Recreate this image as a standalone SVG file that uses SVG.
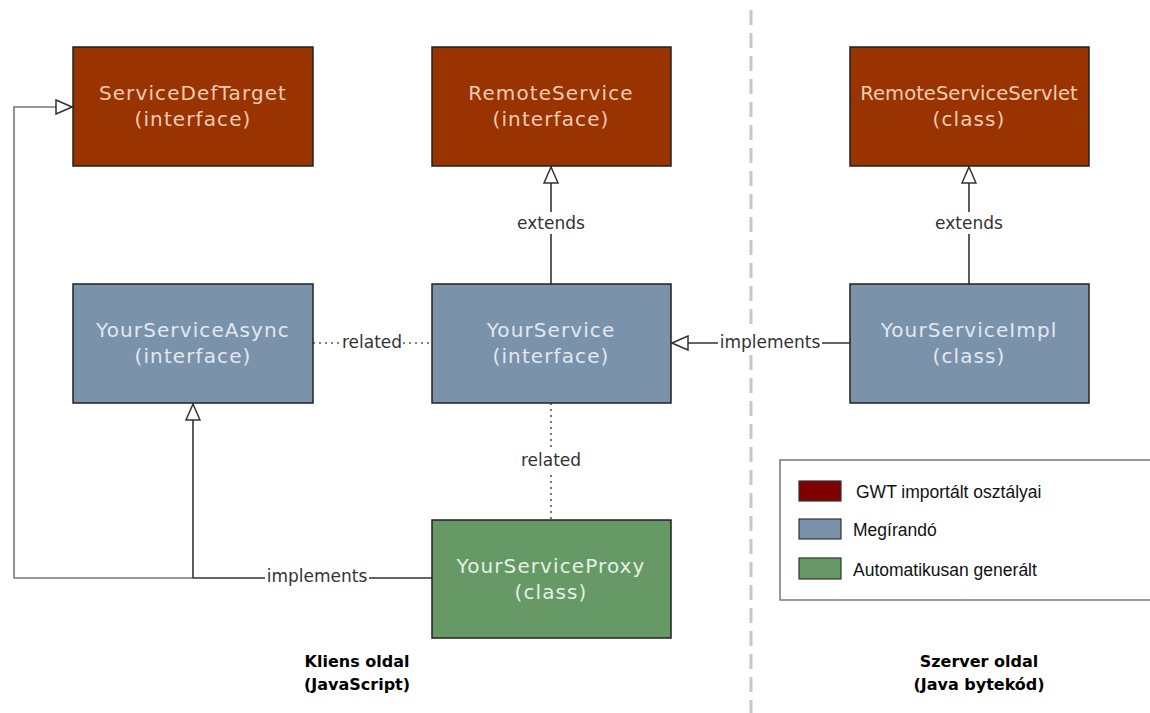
<svg xmlns="http://www.w3.org/2000/svg" width="1150" height="713" viewBox="0 0 1150 713">
<style>
.node rect{stroke:#222;stroke-width:1.5}
.brown rect{fill:#993300}
.blue rect{fill:#7a92aa}
.green rect{fill:#669966}
.ntext{font-family:"DejaVu Sans",Verdana,sans-serif;font-size:20px;letter-spacing:1.1px;text-anchor:middle}
.brown text{fill:#f2cbb5}
.blue text{fill:#e2e8f0}
.green text{fill:#e4f0e4}
.conn{fill:none;stroke:#333;stroke-width:1.6}
.dot{fill:none;stroke:#555;stroke-width:1.6;stroke-dasharray:2 4}
.lbl{font-family:"DejaVu Sans",Verdana,sans-serif;font-size:17px;fill:#333;text-anchor:middle}
.lbg{fill:#fff}
.legtext{font-family:"Liberation Sans",Arial,sans-serif;font-size:17.5px;fill:#111}
.side{font-family:"DejaVu Sans",Verdana,sans-serif;font-size:16px;font-weight:bold;fill:#000;text-anchor:middle}
</style>
<defs>
<marker id="tri" viewBox="0 0 18 16" refX="17" refY="8" markerWidth="18" markerHeight="16" markerUnits="userSpaceOnUse" orient="auto">
<path d="M1,1 L17,8 L1,15 Z" fill="#fff" stroke="#333" stroke-width="1.5"/>
</marker>
</defs>
<rect width="1150" height="713" fill="#fff"/>
<line x1="751" y1="10" x2="751" y2="713" stroke="#c8c8c8" stroke-width="3" stroke-dasharray="15 8"/>
<g id="connectors">
<path class="conn" d="M432,578 L193,578"/>
<path class="conn" style="stroke:#777" d="M193,578 L14,578 L14,107 L72,107" marker-end="url(#tri)"/>
<path class="conn" d="M193,578 L193,404" marker-end="url(#tri)"/>
<path class="conn" d="M551,284 L551,167" marker-end="url(#tri)"/>
<path class="conn" d="M969,284 L969,167" marker-end="url(#tri)"/>
<path class="conn" d="M850,343 L672,343" marker-end="url(#tri)"/>
<path class="dot" d="M313,343 L432,343"/>
<path class="dot" d="M551,403 L551,520"/>
<rect class="lbg" x="516" y="212" width="70" height="22"/>
<text class="lbl" x="551" y="229">extends</text>
<rect class="lbg" x="934" y="212" width="70" height="22"/>
<text class="lbl" x="969" y="229">extends</text>
<rect class="lbg" x="718" y="332" width="104" height="22"/>
<text class="lbl" x="770" y="348">implements</text>
<rect class="lbg" x="341" y="332" width="62" height="22"/>
<text class="lbl" x="372" y="348">related</text>
<rect class="lbg" x="519" y="449" width="64" height="22"/>
<text class="lbl" x="551" y="466">related</text>
<rect class="lbg" x="265" y="566" width="104" height="22"/>
<text class="lbl" x="317" y="582">implements</text>
</g>
<g id="ServiceDefTarget" class="node brown">
<rect x="73" y="47" width="240" height="119"/>
<text class="ntext" x="193" y="100">ServiceDefTarget</text>
<text class="ntext" x="193" y="126">(interface)</text>
</g>
<g id="RemoteService" class="node brown">
<rect x="432" y="47" width="239" height="119"/>
<text class="ntext" x="551" y="100">RemoteService</text>
<text class="ntext" x="551" y="126">(interface)</text>
</g>
<g id="RemoteServiceServlet" class="node brown">
<rect x="850" y="47" width="239" height="119"/>
<text class="ntext" x="969" y="100" style="letter-spacing:0;font-size:19.6px">RemoteServiceServlet</text>
<text class="ntext" x="969" y="126">(class)</text>
</g>
<g id="YourServiceAsync" class="node blue">
<rect x="73" y="284" width="240" height="119"/>
<text class="ntext" x="193" y="337">YourServiceAsync</text>
<text class="ntext" x="193" y="363">(interface)</text>
</g>
<g id="YourService" class="node blue">
<rect x="432" y="284" width="239" height="119"/>
<text class="ntext" x="551" y="337">YourService</text>
<text class="ntext" x="551" y="363">(interface)</text>
</g>
<g id="YourServiceImpl" class="node blue">
<rect x="850" y="284" width="239" height="119"/>
<text class="ntext" x="969" y="337">YourServiceImpl</text>
<text class="ntext" x="969" y="363">(class)</text>
</g>
<g id="YourServiceProxy" class="node green">
<rect x="432" y="520" width="239" height="118"/>
<text class="ntext" x="551" y="573">YourServiceProxy</text>
<text class="ntext" x="551" y="599">(class)</text>
</g>
<g id="legend">
<rect x="780" y="460" width="380" height="140" fill="#fff" stroke="#777" stroke-width="1.5"/>
<rect x="799" y="481" width="42" height="20" fill="#800000" stroke="#333" stroke-width="1.2"/>
<rect x="799" y="519" width="42" height="20" fill="#7a92aa" stroke="#333" stroke-width="1.2"/>
<rect x="799" y="558" width="42" height="21" fill="#669966" stroke="#333" stroke-width="1.2"/>
<text class="legtext" x="856" y="498">GWT importált osztályai</text>
<text class="legtext" x="853" y="536">Megírandó</text>
<text class="legtext" x="853" y="576">Automatikusan generált</text>
</g>
<g id="labels">
<text class="side" x="357" y="667">Kliens oldal</text>
<text class="side" x="357" y="690">(JavaScript)</text>
<text class="side" x="979" y="667">Szerver oldal</text>
<text class="side" x="979" y="690">(Java bytekód)</text>
</g>
</svg>
